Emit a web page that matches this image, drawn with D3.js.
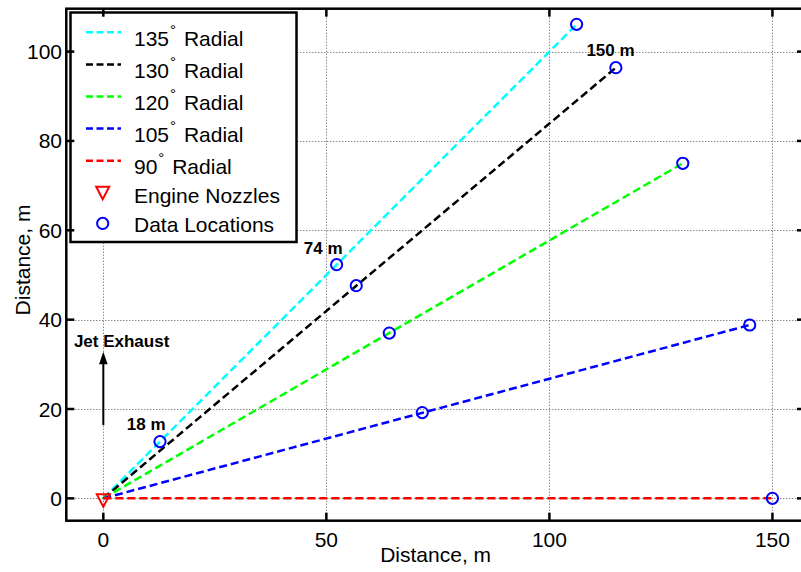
<!DOCTYPE html>
<html>
<head>
<meta charset="utf-8">
<script src="https://cdn.jsdelivr.net/npm/d3@7"></script>
<style>
  html, body { margin: 0; padding: 0; background: #fff; }
  svg { display: block; font-family: "Liberation Sans", Arial, sans-serif; }
</style>
</head>
<body>
<svg id="chart" width="801" height="572"></svg>
<script>
// ---------------- data ----------------
const radialNames = ["135", "130", "120", "105", "90"];
const radialColors = ["#00ffff", "#000000", "#00ff00", "#0000ff", "#ff0000"];
// each radial line: from nozzle (0,0) to its 150 m location
const radialEndX = [106.1, 114.9, 129.9, 144.9, 150.0];
const radialEndY = [106.1, 96.4, 75.0, 38.8, 0.0];
// data locations
const dataX = [12.7, 52.3, 106.1, 56.7, 114.9, 64.1, 129.9, 71.5, 144.9, 150.0];
const dataY = [12.7, 52.3, 106.1, 47.6, 96.4, 37.0, 75.0, 19.2, 38.8, 0.0];
// engine nozzles
const nozzleX = [0];
const nozzleY = [0];
// ticks
const xTicks = [0, 50, 100, 150];
const yTicks = [0, 20, 40, 60, 80, 100];
// annotations (data coordinates)
const distLabels = ["18 m", "74 m", "150 m"];
const distLabelX = [9.6, 49.3, 113.7];
const distLabelY = [15.3, 54.6, 99.1];
const exhaustLabel = "Jet Exhaust";
const exhaustArrowX = [0, 0];
const exhaustArrowY = [16.4, 32.8];

// ---------------- scales ----------------
const svg = d3.select("#chart");
const L = 66.3, R = 805, T = 8.7, B = 520.7;
const x = d3.scaleLinear().domain([-8.3, 157.3]).range([L, R]);
const y = d3.scaleLinear().domain([-5, 109.6]).range([B, T]);
const FS = 21;

// clip
svg.append("defs").append("clipPath").attr("id", "clip")
  .append("rect").attr("x", L).attr("y", T).attr("width", R - L).attr("height", B - T);

// grid
const grid = svg.append("g").attr("stroke", "#555").attr("stroke-width", 1)
  .attr("stroke-dasharray", "1,2");
grid.selectAll("line.gx").data(xTicks).join("line")
  .attr("x1", d => Math.round(x(d)) + 0.5).attr("x2", d => Math.round(x(d)) + 0.5)
  .attr("y1", T).attr("y2", B);
grid.selectAll("line.gy").data(yTicks).join("line")
  .attr("y1", d => Math.round(y(d)) + 0.5).attr("y2", d => Math.round(y(d)) + 0.5)
  .attr("x1", L).attr("x2", R);

// radial lines
const plot = svg.append("g").attr("clip-path", "url(#clip)");
const line = d3.line().x(d => x(d[0])).y(d => y(d[1]));
radialNames.forEach((n, i) => {
  plot.append("path")
    .attr("d", line([[nozzleX[0], nozzleY[0]], [radialEndX[i], radialEndY[i]]]))
    .attr("fill", "none").attr("stroke", radialColors[i])
    .attr("stroke-width", 2.5).attr("stroke-dasharray", "8,4");
});

// nozzle marker
function triPath(cx, cy) {
  return `M${cx - 6.5},${cy - 4} L${cx + 6.5},${cy - 4} L${cx},${cy + 8.5} Z`;
}
plot.selectAll("path.noz").data(nozzleX).join("path")
  .attr("d", (d, i) => triPath(x(d), y(nozzleY[i])))
  .attr("fill", "none").attr("stroke", "#ff0000").attr("stroke-width", 2);

// data markers
plot.selectAll("circle.dl").data(dataX).join("circle")
  .attr("cx", d => x(d)).attr("cy", (d, i) => y(dataY[i])).attr("r", 5.6)
  .attr("fill", "none").attr("stroke", "#0000ff").attr("stroke-width", 2);

// distance labels
svg.selectAll("text.dist").data(distLabels).join("text")
  .attr("x", (d, i) => x(distLabelX[i])).attr("y", (d, i) => y(distLabelY[i]))
  .attr("text-anchor", "middle").attr("font-size", 17).attr("font-weight", "bold")
  .text(d => d);

// jet exhaust arrow
const ax = x(exhaustArrowX[0]), ay0 = y(exhaustArrowY[0]), ay1 = y(exhaustArrowY[1]);
svg.append("line").attr("x1", ax).attr("x2", ax).attr("y1", ay0).attr("y2", ay1 + 10)
  .attr("stroke", "#000").attr("stroke-width", 2);
svg.append("path").attr("d", `M${ax},${ay1} L${ax - 4.3},${ay1 + 12.5} L${ax + 4.3},${ay1 + 12.5} Z`)
  .attr("fill", "#000");
svg.append("text").attr("x", x(4.1)).attr("y", y(33.9))
  .attr("text-anchor", "middle").attr("font-size", 17).attr("font-weight", "bold")
  .text(exhaustLabel);

// legend
const lg = svg.append("g");
lg.append("rect").attr("x", 70.5).attr("y", 12.5).attr("width", 226).attr("height", 229.5)
  .attr("fill", "#fff").attr("stroke", "#000").attr("stroke-width", 2.5);
const rowY = i => 32.3 + i * 32.1;
radialNames.forEach((n, i) => {
  const yy = rowY(i);
  lg.append("line").attr("x1", 86).attr("x2", 121).attr("y1", yy).attr("y2", yy)
    .attr("stroke", radialColors[i]).attr("stroke-width", 2.5).attr("stroke-dasharray", "7,3.5");
  const t = lg.append("text").attr("x", 134).attr("y", yy + 13.5).attr("font-size", FS);
  t.append("tspan").text(n);
  t.append("tspan").attr("font-size", 15).attr("dx", 1).attr("dy", -11).text("°");
  t.append("tspan").attr("dy", 11).attr("dx", 2).text(" Radial");
});
{
  const yy = rowY(5);
  lg.append("path").attr("d", triPath(102.7, yy - 2)).attr("fill", "none")
    .attr("stroke", "#ff0000").attr("stroke-width", 2);
  lg.append("text").attr("x", 134).attr("y", yy + 10.5).attr("font-size", FS).text("Engine Nozzles");
  const y2 = rowY(6);
  lg.append("circle").attr("cx", 102.7).attr("cy", y2 - 1.5).attr("r", 5.6).attr("fill", "none")
    .attr("stroke", "#0000ff").attr("stroke-width", 2);
  lg.append("text").attr("x", 134).attr("y", y2 + 7.5).attr("font-size", FS).text("Data Locations");
}

// frame and ticks
svg.append("rect").attr("x", L).attr("y", T).attr("width", R - L).attr("height", B - T)
  .attr("fill", "none").attr("stroke", "#000").attr("stroke-width", 2.5);
const tk = svg.append("g").attr("stroke", "#000").attr("stroke-width", 2.5);
xTicks.forEach(v => {
  tk.append("line").attr("x1", x(v)).attr("x2", x(v)).attr("y1", B).attr("y2", B - 8);
  tk.append("line").attr("x1", x(v)).attr("x2", x(v)).attr("y1", T).attr("y2", T + 8);
});
yTicks.forEach(v => {
  tk.append("line").attr("y1", y(v)).attr("y2", y(v)).attr("x1", L).attr("x2", L + 8);
  tk.append("line").attr("y1", y(v)).attr("y2", y(v)).attr("x1", R).attr("x2", R - 8);
});

// tick labels
svg.selectAll("text.xt").data(xTicks).join("text")
  .attr("x", d => x(d)).attr("y", 547).attr("text-anchor", "middle")
  .attr("font-size", FS).text(d => d);
svg.selectAll("text.yt").data(yTicks).join("text")
  .attr("x", 62).attr("y", d => y(d) + 7.5).attr("text-anchor", "end")
  .attr("font-size", FS).text(d => d);

// axis labels
svg.append("text").attr("x", (L + R) / 2).attr("y", 562).attr("text-anchor", "middle")
  .attr("font-size", FS).text("Distance, m");
svg.append("text").attr("transform", "translate(30,260) rotate(-90)")
  .attr("text-anchor", "middle").attr("font-size", FS).text("Distance, m");
</script>
</body>
</html>
